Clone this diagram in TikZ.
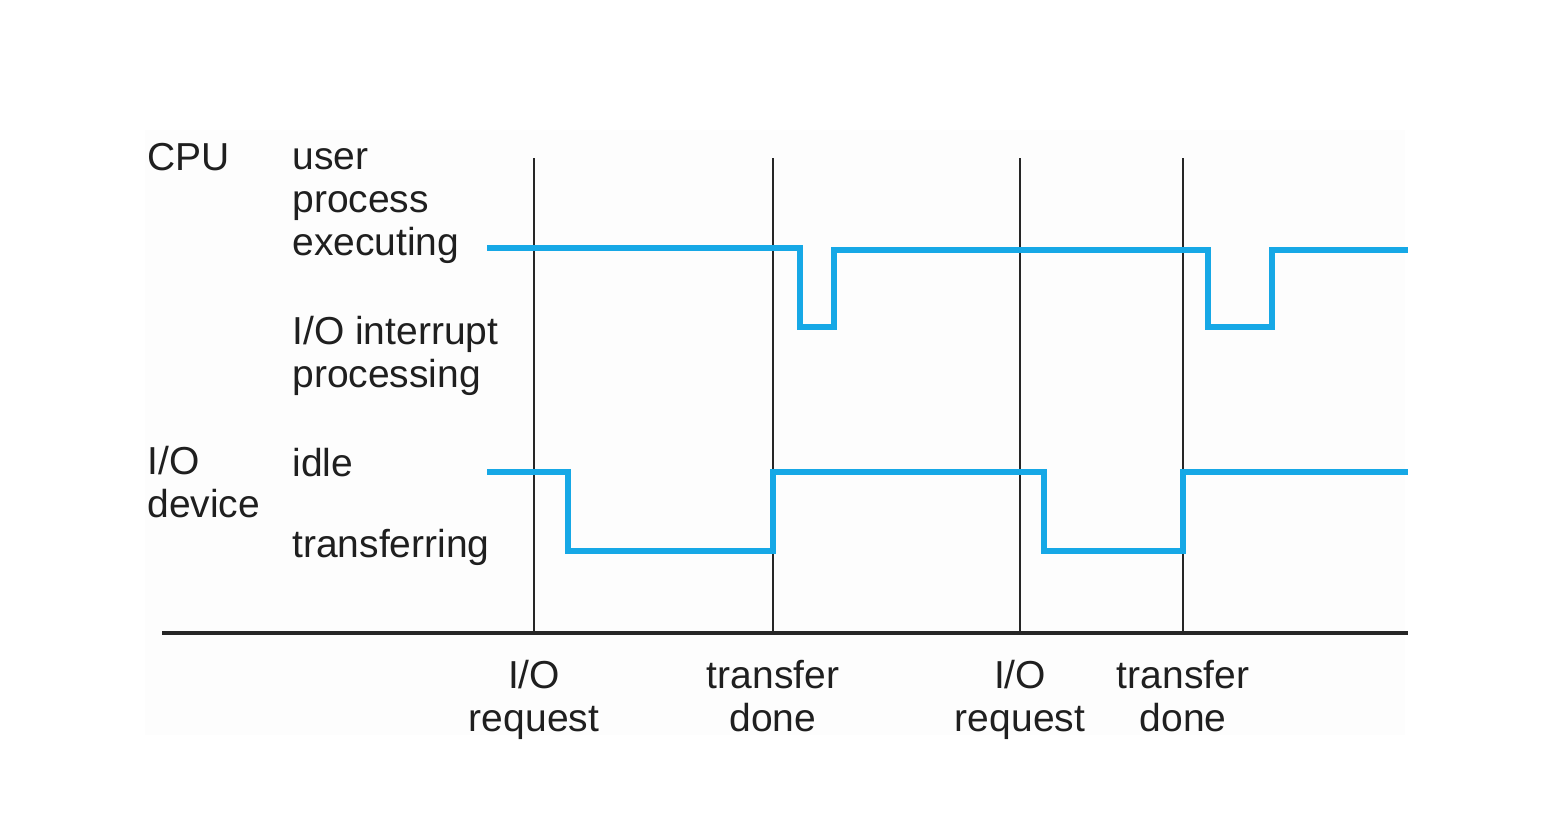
\documentclass[tikz,border=0pt]{standalone}
\usepackage{fontspec}
\setmainfont{Liberation Sans}
\begin{document}
\begin{tikzpicture}[x=0.5pt,y=-0.5pt,
  lbl/.style={inner sep=0pt, anchor=base west, align=left, text=black!88,
    font=\fontsize{19.5}{21.5}\selectfont},
  evlbl/.style={inner sep=0pt, anchor=base, align=center, text=black!88,
    font=\fontsize{19.5}{21.5}\selectfont},
  signal/.style={draw={rgb,255:red,22;green,168;blue,230}, line width=3pt, line join=miter},
  marker/.style={draw=black!85, line width=1pt},
  axis/.style={draw=black!85, line width=2pt}]
\useasboundingbox (0,0) rectangle (1557,840);
\fill[white] (0,0) rectangle (1557,840);
\fill[black!0.7] (145,130) rectangle (1405,735);

% event instants
\foreach \n/\x in {a/534, b/773, c/1020, d/1183} {
  \coordinate (\n T) at (\x,158);
  \coordinate (\n B) at (\x,633);
}
\coordinate (axisL) at (162,633);
\coordinate (axisR) at (1408,633);

% time markers and axis
\foreach \n in {a,b,c,d} \draw[marker] (\n T) -- (\n B);
\draw[axis] (axisL) -- (axisR);

% CPU activity
\coordinate (cpuS) at (487,248);
\coordinate (cpuE) at (1408,250);
\draw[signal] (cpuS) -- (800,248) -- (800,327) -- (834,327) -- (834,250)
  -- (1208,250) -- (1208,327) -- (1272,327) -- (1272,250) -- (cpuE);

% I/O device activity
\coordinate (ioS) at (487,472);
\coordinate (ioE) at (1408,472);
\draw[signal] (ioS) -- (568,472) -- (568,551) -- (773,551) -- (773,472)
  -- (1044,472) -- (1044,551) -- (1183,551) -- (1183,472) -- (ioE);

% row labels (anchored at the baseline of their last line)
\node[lbl] (cpu) at (147,170) {CPU};
\node[lbl] (user) at (292,255) {user\\process\\executing};
\node[lbl] (intr) at (292,387) {I/O interrupt\\processing};
\node[lbl] (dev) at (147,517) {I/O\\device};
\node[lbl] (idle) at (292,476) {idle};
\node[lbl] (xfer) at (292,557) {transferring};

% event labels
\node[evlbl] (ea) at (534,731) {I/O\\request};
\node[evlbl] (eb) at (773,731) {transfer\\done};
\node[evlbl] (ec) at (1020,731) {I/O\\request};
\node[evlbl] (ed) at (1183,731) {transfer\\done};
\end{tikzpicture}
\end{document}
